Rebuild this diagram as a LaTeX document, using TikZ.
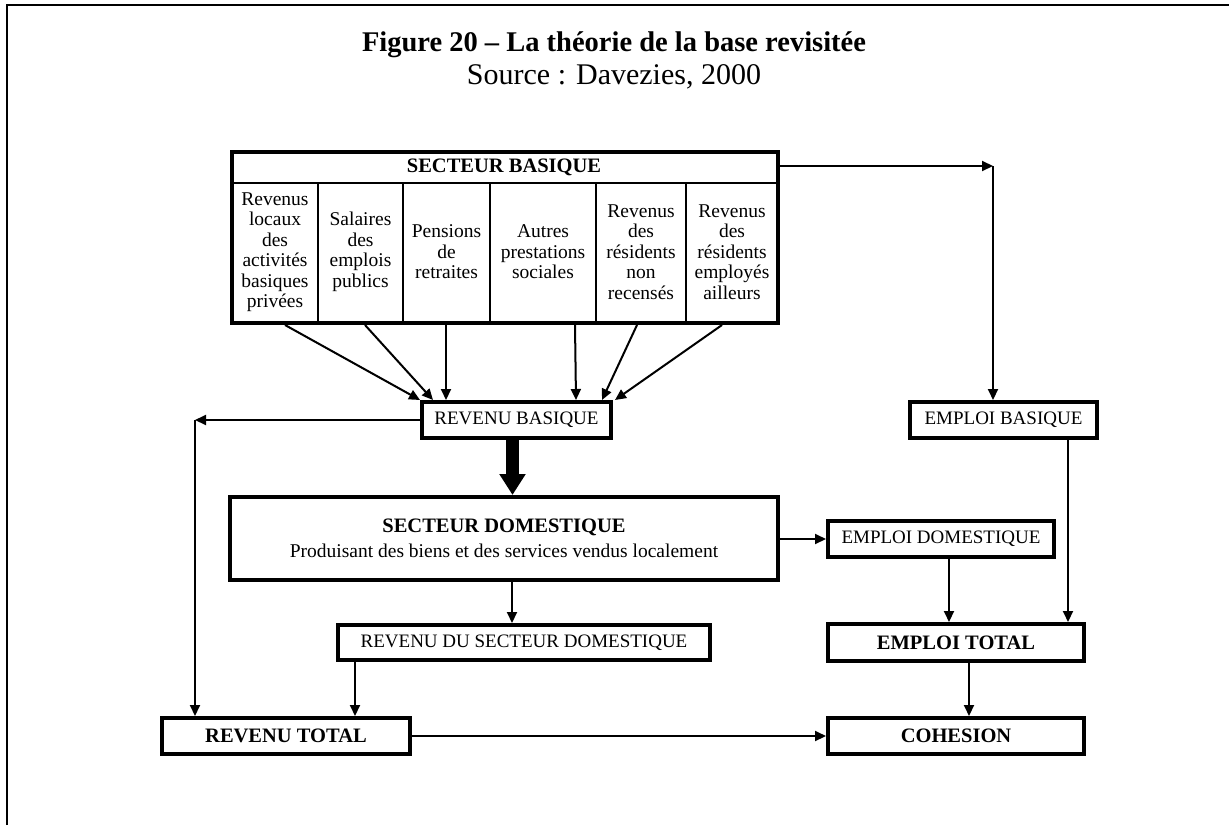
\documentclass[tikz,border=0pt]{standalone}
\usepackage{fontspec}
\setmainfont{Liberation Serif}
\usetikzlibrary{arrows.meta}
\tikzset{
  box/.style={draw, line width=4pt, inner sep=0pt, align=center, font=\fontsize{19}{21}\selectfont},
  boldtxt/.style={font=\fontsize{20.5}{22}\selectfont\bfseries},
  coltext/.style={align=center, inner sep=0pt, font=\fontsize{19.5}{20.5}\selectfont},
  arr/.style={line width=2pt, -{Triangle[length=11pt,width=10pt]}},
  bigarr/.style={line width=13pt, -{Triangle[length=21pt,width=25pt]}},
  sep/.style={line width=2pt}
}
\begin{document}
\begin{tikzpicture}[x=1pt, y=-1pt, line join=miter]
\useasboundingbox (0,0) rectangle (1229,825);
% cadre et titre
\draw[line width=2pt] (7,825) -- (7,5) -- (1229,5);
\node[font=\fontsize{28.5}{34}\selectfont\bfseries, anchor=base] (titre) at (614,51) {Figure 20 -- La théorie de la base revisitée};
\node[font=\fontsize{30}{34}\selectfont, anchor=base] (source) at (614,84) {Source : Davezies, 2000};

% secteur basique
\node[box, minimum width=546pt, minimum height=171pt] (sb) at (505,237.5) {};
\node[boldtxt] (sbt) at (504,167) {SECTEUR BASIQUE};
\draw[sep] (232,183) -- (778,183);
\foreach \lx in {318,403,490,596,686}
  \draw[sep] (\lx,183) -- (\lx,323);
\foreach \cx/\txt [count=\i] in {275/{Revenus\\locaux\\des\\activités\\basiques\\privées},
    360.5/{Salaires\\des\\emplois\\publics}, 446.5/{Pensions\\de\\retraites},
    543/{Autres\\prestations\\sociales}, 641/{Revenus\\des\\résidents\\non\\recensés},
    732/{Revenus\\des\\résidents\\employés\\ailleurs}}
  \node[coltext] (c\i) at (\cx,252) {\txt};

% boites
\node[box, minimum width=189pt, minimum height=36pt] (rb) at (516.5,420) {REVENU BASIQUE};
\node[box, minimum width=187pt, minimum height=36pt] (eb) at (1003.5,420) {EMPLOI BASIQUE};
\node[box, minimum width=548pt, minimum height=83pt, font=\fontsize{19.5}{25}\selectfont] (sd) at (504,538.5)
  {{\fontsize{20.5}{25}\selectfont\bfseries SECTEUR DOMESTIQUE}\\Produisant des biens et des services vendus localement};
\node[box, minimum width=226pt, minimum height=36pt] (ed) at (941,539) {EMPLOI DOMESTIQUE};
\node[box, minimum width=372pt, minimum height=35pt] (rd) at (524,642.5) {REVENU DU SECTEUR DOMESTIQUE};
\node[box, boldtxt, minimum width=256pt, minimum height=37pt] (et) at (956,642.5) {EMPLOI TOTAL};
\node[box, boldtxt, minimum width=248pt, minimum height=36pt] (rt) at (286,736) {REVENU TOTAL};
\node[box, boldtxt, minimum width=256pt, minimum height=36pt] (co) at (956,736) {COHESION};

% fleches
\foreach \s/\e in {55/0, 135/13, 216/26, 345/156, 407/182, 492/195}
  \draw[arr] ([xshift=\s pt]sb.south west) -- ([xshift=\e pt]rb.north west);
\coordinate (k1) at (993,166);
\coordinate (k2) at (195,420);
\draw[arr] (sb.east |- k1) -- (k1);
\draw[arr] (k1) -- (k1 |- eb.north);
\draw[arr] (rb.west) -- (k2);
\draw[arr] (k2) -- (k2 |- rt.north);
\coordinate (p1) at ([xshift=-4pt]rb.south);
\coordinate (p2) at ([xshift=8pt]sd.south);
\coordinate (p3) at ([xshift=19pt]rd.south west);
\coordinate (p4) at ([xshift=8pt]ed.south);
\coordinate (p5) at ([xshift=-31pt]eb.south east);
\coordinate (p6) at ([xshift=13pt]et.south);
\draw[bigarr] (p1) -- (p1 |- sd.north);
\draw[arr] (p2) -- (p2 |- rd.north);
\draw[arr] (p3) -- (p3 |- rt.north);
\draw[arr] (sd.east |- ed.west) -- (ed.west);
\draw[arr] (p4) -- (p4 |- et.north);
\draw[arr] (p5) -- (p5 |- et.north);
\draw[arr] (p6) -- (p6 |- co.north);
\draw[arr] (rt.east) -- (co.west);
\end{tikzpicture}
\end{document}
